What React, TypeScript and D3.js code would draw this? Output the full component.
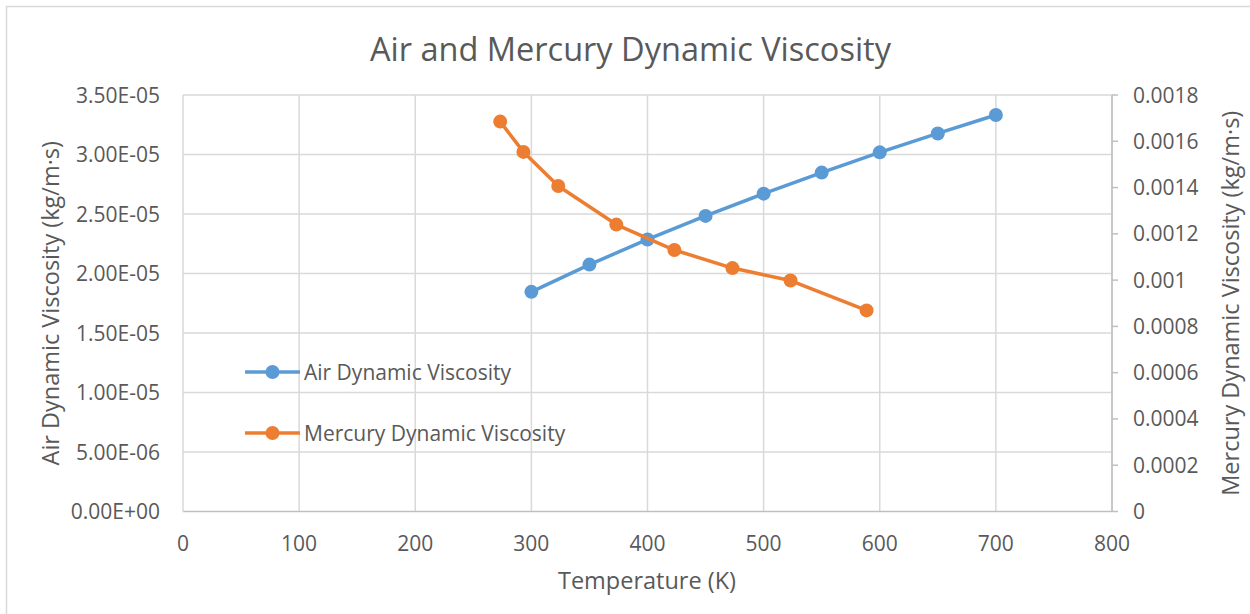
import { useRef, useEffect } from 'react';
import * as d3 from 'd3';

// Air (Cengel table) and mercury dynamic viscosity vs temperature
const airTemps = [300, 350, 400, 450, 500, 550, 600, 650, 700];
const airVisc = [1.846e-5, 2.075e-5, 2.286e-5, 2.484e-5, 2.671e-5, 2.848e-5, 3.018e-5, 3.177e-5, 3.332e-5];

const mercuryTemps = [273.15, 293.15, 323.15, 373.15, 423.15, 473.15, 523.15, 588.65];
const mercuryVisc = [1.685e-3, 1.554e-3, 1.407e-3, 1.24e-3, 1.13e-3, 1.052e-3, 0.998e-3, 0.869e-3];

const xTicks = [0, 100, 200, 300, 400, 500, 600, 700, 800];
const leftTicks = [0, 0.5e-5, 1e-5, 1.5e-5, 2e-5, 2.5e-5, 3e-5, 3.5e-5];
const rightTicks = [0, 0.0002, 0.0004, 0.0006, 0.0008, 0.001, 0.0012, 0.0014, 0.0016, 0.0018];

const seriesNames = ['Air Dynamic Viscosity', 'Mercury Dynamic Viscosity'];
const colors = ['#5b9bd5', '#ed7d31'];

const FONT = '"Open Sans", sans-serif';
const TEXT = '#595959';

// Excel-like scientific format: 3.50E-05
function sci(v: number) {
  const [m, e] = v.toExponential(2).split('e');
  const n = parseInt(e, 10);
  const sign = n < 0 ? '-' : '+';
  return `${m}E${sign}${String(Math.abs(n)).padStart(2, '0')}`;
}

function App() {
  const ref = useRef<SVGSVGElement | null>(null);

  useEffect(() => {
    const el = ref.current;
    if (!el) return;
    const svg = d3.select(el);
    svg.selectAll('*').remove();

    const left = 183, right = 1112, top = 95, bottom = 511.5;

    const x = d3.scaleLinear().domain([0, 800]).range([left, right]);
    const yL = d3.scaleLinear().domain([0, 3.5e-5]).range([bottom, top]);
    const yR = d3.scaleLinear().domain([0, 0.0018]).range([bottom, top]);

    // chart border
    svg.append('rect')
      .attr('x', 6.5).attr('y', 6.5)
      .attr('width', 1260).attr('height', 620)
      .attr('fill', '#fff')
      .attr('stroke', '#d9d9d9')
      .attr('stroke-width', 1.5);

    // title
    svg.append('text')
      .attr('x', 630.5)
      .attr('y', 61)
      .attr('text-anchor', 'middle')
      .attr('font-family', FONT)
      .attr('font-size', 32.5)
      .attr('fill', TEXT)
      .text('Air and Mercury Dynamic Viscosity');

    // gridlines
    const grid = svg.append('g').attr('stroke', '#d9d9d9').attr('stroke-width', 1.5);
    grid.selectAll('.h').data(leftTicks.slice(1)).enter().append('line')
      .attr('x1', left).attr('x2', right)
      .attr('y1', d => yL(d)).attr('y2', d => yL(d));
    grid.selectAll('.v').data(xTicks.slice(1)).enter().append('line')
      .attr('x1', d => x(d)).attr('x2', d => x(d))
      .attr('y1', top).attr('y2', bottom);

    // axes lines
    const axis = svg.append('g').attr('stroke', '#bfbfbf').attr('stroke-width', 1.5);
    axis.append('line').attr('x1', left).attr('x2', right).attr('y1', bottom).attr('y2', bottom);
    axis.append('line').attr('x1', left).attr('x2', left).attr('y1', top).attr('y2', bottom).attr('stroke', '#d9d9d9');
    axis.append('line').attr('x1', right).attr('x2', right).attr('y1', top).attr('y2', bottom);
    axis.selectAll('.rt').data(rightTicks).enter().append('line')
      .attr('x1', right).attr('x2', right + 6)
      .attr('y1', d => yR(d)).attr('y2', d => yR(d));

    // tick labels
    const labels = svg.append('g')
      .attr('font-family', FONT)
      .attr('font-size', 21)
      .attr('fill', TEXT);
    labels.selectAll('.xl').data(xTicks).enter().append('text')
      .attr('x', d => x(d)).attr('y', 551)
      .attr('text-anchor', 'middle')
      .text(d => String(d));
    labels.selectAll('.yl').data(leftTicks).enter().append('text')
      .attr('x', 160).attr('y', d => yL(d) + 7.5)
      .attr('text-anchor', 'end')
      .text(d => sci(d));
    labels.selectAll('.yr').data(rightTicks).enter().append('text')
      .attr('x', 1133).attr('y', d => yR(d) + 7.5)
      .attr('text-anchor', 'start')
      .text(d => String(+d.toFixed(4)));

    // axis titles
    const titles = svg.append('g')
      .attr('font-family', FONT)
      .attr('font-size', 23.5)
      .attr('fill', TEXT)
      .attr('text-anchor', 'middle');
    titles.append('text')
      .attr('x', 647).attr('y', 589)
      .text('Temperature (K)');
    titles.append('text')
      .attr('transform', `translate(59,${(top + bottom) / 2}) rotate(-90)`)
      .text('Air Dynamic Viscosity (kg/m·s)');
    titles.append('text')
      .attr('transform', `translate(1239,${(top + bottom) / 2}) rotate(-90)`)
      .text('Mercury Dynamic Viscosity (kg/m·s)');

    // series
    const series = [
      { xs: airTemps, ys: airVisc, scale: yL },
      { xs: mercuryTemps, ys: mercuryVisc, scale: yR },
    ];
    series.forEach((s, i) => {
      const pts = s.xs.map((t, j) => [x(t), s.scale(s.ys[j])] as [number, number]);
      svg.append('path')
        .attr('d', d3.line()(pts))
        .attr('fill', 'none')
        .attr('stroke', colors[i])
        .attr('stroke-width', 3.5)
        .attr('stroke-linejoin', 'round');
      svg.append('g').selectAll('circle').data(pts).enter().append('circle')
        .attr('cx', d => d[0]).attr('cy', d => d[1])
        .attr('r', 7)
        .attr('fill', colors[i]);
    });

    // legend
    const legendY = [372, 433];
    seriesNames.forEach((name, i) => {
      const g = svg.append('g').attr('transform', `translate(245,${legendY[i]})`);
      g.append('line').attr('x1', 0).attr('x2', 55).attr('y1', 0).attr('y2', 0)
        .attr('stroke', colors[i]).attr('stroke-width', 3.5);
      g.append('circle').attr('cx', 27.5).attr('cy', 0).attr('r', 7).attr('fill', colors[i]);
      g.append('text').attr('x', 59).attr('y', 7.5)
        .attr('font-family', FONT).attr('font-size', 21).attr('fill', TEXT)
        .text(name);
    });
  }, []);

  return (
    <svg ref={ref} width={1250} height={614}
      style={{ position: 'absolute', left: 0, top: 0, display: 'block' }} />
  );
}

export default App;
